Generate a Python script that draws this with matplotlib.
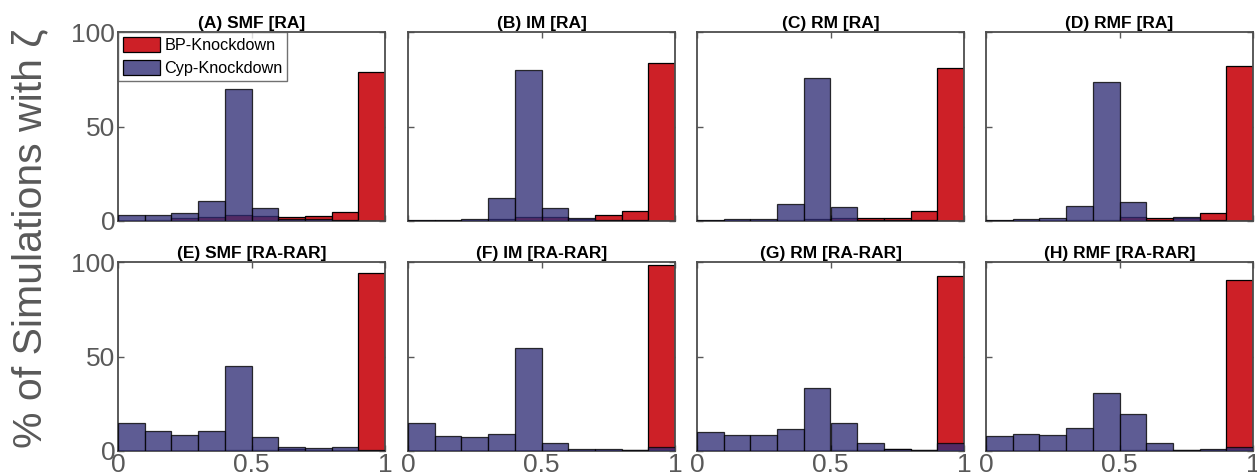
import matplotlib
matplotlib.use("Agg")
import matplotlib.pyplot as plt
import numpy as np

plt.rcParams['font.family'] = ['Liberation Sans', 'DejaVu Sans']

bin_edges = [0.0, 0.1, 0.2, 0.3, 0.4, 0.5, 0.6, 0.7, 0.8, 0.9, 1.0]

titles = ["(A) SMF [RA]", "(B) IM [RA]", "(C) RM [RA]", "(D) RMF [RA]",
          "(E) SMF [RA-RAR]", "(F) IM [RA-RAR]", "(G) RM [RA-RAR]", "(H) RMF [RA-RAR]"]

# % of simulations per bin (BP-Knockdown = red, Cyp-Knockdown = blue)
bp_A = [0.0, 0.5, 1.4, 2.3, 3.2, 2.6, 2.3, 2.8, 4.6, 78.8]
cyp_A = [3.2, 3.1, 4.4, 10.8, 70.0, 6.7, 1.2, 1.0, 0.5, 0.0]
bp_B = [0.0, 0.0, 0.0, 0.8, 2.3, 2.0, 1.2, 3.4, 5.1, 83.8]
cyp_B = [0.3, 0.5, 1.0, 12.3, 80.0, 6.9, 1.8, 0.5, 0.3, 0.0]
bp_C = [0.0, 0.0, 0.0, 0.3, 1.0, 1.4, 1.6, 1.8, 5.5, 80.8]
cyp_C = [0.3, 0.9, 1.2, 9.0, 75.7, 7.2, 0.5, 0.5, 0.3, 0.0]
bp_D = [0.0, 0.0, 0.0, 0.3, 0.5, 2.3, 1.4, 1.4, 4.4, 82.2]
cyp_D = [0.3, 0.8, 1.4, 7.9, 73.4, 10.2, 0.5, 1.9, 0.3, 0.0]
bp_E = [0.0, 0.0, 0.0, 0.0, 0.3, 0.5, 1.0, 0.5, 0.5, 94.2]
cyp_E = [15.0, 10.6, 8.7, 10.6, 44.8, 7.4, 2.1, 1.4, 1.9, 0.3]
bp_F = [0.0, 0.0, 0.0, 0.0, 0.0, 0.0, 0.0, 0.0, 0.3, 98.4]
cyp_F = [14.8, 8.1, 7.4, 8.8, 54.5, 4.2, 1.1, 1.2, 0.5, 1.9]
bp_G = [0.0, 0.0, 0.0, 0.0, 0.0, 0.3, 0.5, 1.0, 0.5, 92.8]
cyp_G = [10.1, 8.3, 8.5, 11.6, 33.2, 15.0, 4.0, 1.2, 0.7, 4.0]
bp_H = [0.0, 0.0, 0.0, 0.0, 0.0, 0.3, 0.5, 0.5, 0.5, 90.3]
cyp_H = [8.1, 8.8, 8.5, 12.2, 30.7, 19.4, 4.0, 0.7, 0.9, 2.3]

bp_all = [bp_A, bp_B, bp_C, bp_D, bp_E, bp_F, bp_G, bp_H]
cyp_all = [cyp_A, cyp_B, cyp_C, cyp_D, cyp_E, cyp_F, cyp_G, cyp_H]

red = '#cd2027'
blue = '#312e76'
gray = '#595959'

W, H = 1257, 476
fig = plt.figure(figsize=(W / 100, H / 100), dpi=100)

lefts = [118, 408, 697, 986]
axw = 267
tops = [32, 262]
axh = 189

left_edges = np.array(bin_edges[:-1])
widths = np.diff(bin_edges)

for i in range(8):
    r, c = divmod(i, 4)
    ax = fig.add_axes([lefts[c] / W, 1 - (tops[r] + axh) / H, axw / W, axh / H])
    ax.bar(left_edges, bp_all[i], width=widths, align='edge', color=red,
           edgecolor='black', linewidth=0.9, label='BP-Knockdown', zorder=2)
    b2 = ax.bar(left_edges, cyp_all[i], width=widths, align='edge', color=blue,
                alpha=0.78, edgecolor='black', linewidth=0.9, label='Cyp-Knockdown', zorder=3)
    for p in b2:
        p.set_edgecolor((0, 0, 0, 1))
    ax.set_xlim(0, 1)
    ax.set_ylim(0, 100)
    ax.set_xticks([0, 0.5, 1])
    ax.set_yticks([0, 50, 100])
    ax.set_xticklabels(['0', '0.5', '1'])
    ax.set_yticklabels(['0', '50', '100'])
    ax.tick_params(direction='in', length=4, width=1, colors=gray, labelsize=19,
                   top=True, right=True)
    ax.tick_params(axis='x', pad=1.5)
    ax.tick_params(axis='y', pad=2)
    if r == 0:
        ax.tick_params(labelbottom=False)
    if c != 0:
        ax.tick_params(labelleft=False)
    for s in ax.spines.values():
        s.set_color('#4d4d4d')
        s.set_linewidth(1.3)
    ax.set_title(titles[i], fontsize=12.5, fontweight='bold', color='black', pad=3)
    if i == 0:
        leg = ax.legend(loc='upper left', fontsize=11.7, frameon=True, fancybox=False,
                        borderaxespad=0.0, handlelength=2.3, handleheight=1.05,
                        labelspacing=0.42, handletextpad=0.25, borderpad=0.3)
        leg.get_frame().set_edgecolor('#4d4d4d')
        leg.get_frame().set_linewidth(1.0)
        for h in leg.legend_handles:
            h.set_alpha(None)
        leg.legend_handles[1].set_facecolor('#5a5891')

fig.text(0.024, 0.5, '% of Simulations with ζ', rotation=90, fontsize=29.5,
         color=gray, ha='center', va='center')

fig.savefig('out.png', dpi=100)
